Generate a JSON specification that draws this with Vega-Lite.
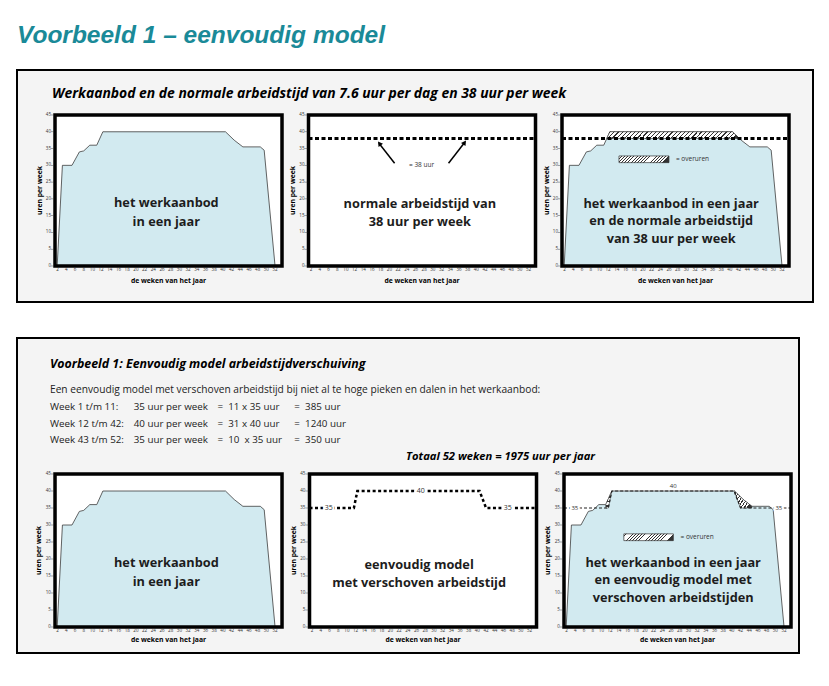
{
"$schema": "https://vega.github.io/schema/vega-lite/v6.json",
"background": "white",
"padding": {"left": 16, "top": 22, "right": 5, "bottom": 5},
"title": {"text": "Voorbeeld 1 – eenvoudig model", "anchor": "start", "frame": "group", "font": "Liberation Sans", "fontSize": 24.5, "fontWeight": "bold", "fontStyle": "italic", "color": "#1a8a98", "baseline": "alphabetic", "offset": 2},
"datasets": {
 "panels": [{"panel":"p1"},{"panel":"p2"},{"panel":"p3"}],
 "kader": [{"week":1.4,"p1":1,"p2":1,"p3":1},{"week":53.6,"p1":1,"p2":1,"p3":1}],
 "werk": [{"week":1.9,"uren":0},{"week":3.1,"uren":30},{"week":5.3,"uren":30},{"week":7,"uren":34},{"week":8,"uren":34.3},{"week":9.4,"uren":36},{"week":11,"uren":36},{"week":12.4,"uren":40},{"week":40.6,"uren":40},{"week":42.6,"uren":37.5},{"week":44.6,"uren":35.5},{"week":48.6,"uren":35.5},{"week":49.5,"uren":34.5},{"week":52,"uren":0}],
 "model": [{"week":1.4,"uren":35},{"week":11.6,"uren":35},{"week":12.4,"uren":40},{"week":40.5,"uren":40},{"week":42,"uren":35},{"week":53.6,"uren":35}],
 "lijn38": [{"week":1.4,"uren":38},{"week":53.6,"uren":38}],
 "pijlen": [{"pijl":"a","week":21.2,"uren":30.6},{"pijl":"a","week":17.6,"uren":36.6},{"pijl":"b","week":33.6,"uren":30.6},{"pijl":"b","week":37.3,"uren":36.8}],
 "overuren": [{"week":11.7,"hoog":38,"laag":38},{"week":12.4,"hoog":40,"laag":38},{"week":40.6,"hoog":40,"laag":38},{"week":42.2,"hoog":38,"laag":38}],
 "hatch1": [{"week":11,"hoog":36,"laag":35},{"week":11.6,"hoog":37.7,"laag":35},{"week":12.4,"hoog":40,"laag":40}],
 "hatch2": [{"week":40.5,"hoog":40,"laag":40},{"week":40.6,"hoog":40,"laag":39.67},{"week":42,"hoog":38.25,"laag":35},{"week":42.6,"hoog":37.5,"laag":35},{"week":44.6,"hoog":35.5,"laag":35}],
 "xas": [{"week":2,"p1":1,"p2":1,"p3":1},{"week":4,"p1":1,"p2":1,"p3":1},{"week":6,"p1":1,"p2":1,"p3":1},{"week":8,"p1":1,"p2":1,"p3":1},{"week":10,"p1":1,"p2":1,"p3":1},{"week":12,"p1":1,"p2":1,"p3":1},{"week":14,"p1":1,"p2":1,"p3":1},{"week":16,"p1":1,"p2":1,"p3":1},{"week":18,"p1":1,"p2":1,"p3":1},{"week":20,"p1":1,"p2":1,"p3":1},{"week":22,"p1":1,"p2":1,"p3":1},{"week":24,"p1":1,"p2":1,"p3":1},{"week":26,"p1":1,"p2":1,"p3":1},{"week":28,"p1":1,"p2":1,"p3":1},{"week":30,"p1":1,"p2":1,"p3":1},{"week":32,"p1":1,"p2":1,"p3":1},{"week":34,"p1":1,"p2":1,"p3":1},{"week":36,"p1":1,"p2":1,"p3":1},{"week":38,"p1":1,"p2":1,"p3":1},{"week":40,"p1":1,"p2":1,"p3":1},{"week":42,"p1":1,"p2":1,"p3":1},{"week":44,"p1":1,"p2":1,"p3":1},{"week":46,"p1":1,"p2":1,"p3":1},{"week":48,"p1":1,"p2":1,"p3":1},{"week":50,"p1":1,"p2":1,"p3":1},{"week":52,"p1":1,"p2":1,"p3":1}],
 "yas": [{"uren":0,"p1":1,"p2":1,"p3":1},{"uren":5,"p1":1,"p2":1,"p3":1},{"uren":10,"p1":1,"p2":1,"p3":1},{"uren":15,"p1":1,"p2":1,"p3":1},{"uren":20,"p1":1,"p2":1,"p3":1},{"uren":25,"p1":1,"p2":1,"p3":1},{"uren":30,"p1":1,"p2":1,"p3":1},{"uren":35,"p1":1,"p2":1,"p3":1},{"uren":40,"p1":1,"p2":1,"p3":1},{"uren":45,"p1":1,"p2":1,"p3":1}],
 "tekst": [
  {"regel":0,"kol":4,"tekst":"Een eenvoudig model met verschoven arbeidstijd bij niet al te hoge pieken en dalen in het werkaanbod:"},
  {"regel":1,"kol":4,"tekst":"Week 1 t/m 11:"},{"regel":1,"kol":16,"tekst":"35 uur per week"},{"regel":1,"kol":28,"tekst":"=\u00a0\u00a011 x 35 uur"},{"regel":1,"kol":39,"tekst":"=\u00a0\u00a0385 uur"},
  {"regel":2,"kol":4,"tekst":"Week 12 t/m 42:"},{"regel":2,"kol":16,"tekst":"40 uur per week"},{"regel":2,"kol":28,"tekst":"=\u00a0\u00a031 x 40 uur"},{"regel":2,"kol":39,"tekst":"=\u00a0\u00a01240 uur"},
  {"regel":3,"kol":4,"tekst":"Week 43 t/m 52:"},{"regel":3,"kol":16,"tekst":"35 uur per week"},{"regel":3,"kol":28,"tekst":"=\u00a0\u00a010\u00a0 x 35 uur"},{"regel":3,"kol":39,"tekst":"=\u00a0\u00a0350 uur"},
  {"regel":4,"kol":55,"tekst":"Totaal 52 weken = 1975 uur per jaar"}
 ]
},
"spacing": 34,
"vconcat": [
 {"width": 796, "height": 232, "view": {"fill": "#f4f4f4", "stroke": "black", "strokeWidth": 2},
  "layer": [
   {"data": {"name": "kader"}, "transform": [{"fold": ["p1","p2","p3"], "as": ["panel","v"]}], "mark": {"type": "area", "fill": "white", "stroke": null},
    "encoding": {"x": {"field": "panel", "type": "nominal", "bandPosition": 0, "scale": {"domain": ["p1","p2","p3"], "paddingInner": 0.1045, "paddingOuter": 0.1223, "align": 0.613}, "axis": null},
                 "xOffset": {"field": "week", "type": "quantitative", "scale": {"domain": [1.4, 53.6], "nice": false, "zero": false}},
                 "y": {"datum": 45, "type": "quantitative", "scale": {"domain": [-10.73, 58.41], "nice": false, "zero": false}, "axis": null},
                 "y2": {"datum": 0}, "detail": {"field": "panel"}}},
   {"data": {"name": "werk"}, "mark": {"type": "area", "color": "#bfe1ea", "line": {"color": "#3c3c3c", "strokeWidth": 0.8}},
    "encoding": {"x": {"datum": "p1", "bandPosition": 0}, "xOffset": {"field": "week", "type": "quantitative"},
                 "y": {"field": "uren", "type": "quantitative", "stack": null}}},
   {"data": {"name": "werk"}, "mark": {"type": "area", "color": "#bfe1ea", "line": {"color": "#3c3c3c", "strokeWidth": 0.8}},
    "encoding": {"x": {"datum": "p3", "bandPosition": 0}, "xOffset": {"field": "week", "type": "quantitative"},
                 "y": {"field": "uren", "type": "quantitative", "stack": null}}},
   {"data": {"name": "overuren"}, "mark": {"type": "area", "stroke": "#333", "strokeWidth": 0.6, "fill": {"gradient":"linear","x1":0,"y1":0,"x2":1,"y2":0.05,"stops":[
{"offset":0,"color":"#fff"},{"offset":0.0225,"color":"#fff"},{"offset":0.0225,"color":"#333"},{"offset":0.03125,"color":"#333"},
{"offset":0.03125,"color":"#fff"},{"offset":0.05375,"color":"#fff"},{"offset":0.05375,"color":"#333"},{"offset":0.0625,"color":"#333"},
{"offset":0.0625,"color":"#fff"},{"offset":0.085,"color":"#fff"},{"offset":0.085,"color":"#333"},{"offset":0.09375,"color":"#333"},
{"offset":0.09375,"color":"#fff"},{"offset":0.11625,"color":"#fff"},{"offset":0.11625,"color":"#333"},{"offset":0.125,"color":"#333"},
{"offset":0.125,"color":"#fff"},{"offset":0.1475,"color":"#fff"},{"offset":0.1475,"color":"#333"},{"offset":0.15625,"color":"#333"},
{"offset":0.15625,"color":"#fff"},{"offset":0.17875,"color":"#fff"},{"offset":0.17875,"color":"#333"},{"offset":0.1875,"color":"#333"},
{"offset":0.1875,"color":"#fff"},{"offset":0.21,"color":"#fff"},{"offset":0.21,"color":"#333"},{"offset":0.21875,"color":"#333"},
{"offset":0.21875,"color":"#fff"},{"offset":0.24125,"color":"#fff"},{"offset":0.24125,"color":"#333"},{"offset":0.25,"color":"#333"},
{"offset":0.25,"color":"#fff"},{"offset":0.2725,"color":"#fff"},{"offset":0.2725,"color":"#333"},{"offset":0.28125,"color":"#333"},
{"offset":0.28125,"color":"#fff"},{"offset":0.30375,"color":"#fff"},{"offset":0.30375,"color":"#333"},{"offset":0.3125,"color":"#333"},
{"offset":0.3125,"color":"#fff"},{"offset":0.335,"color":"#fff"},{"offset":0.335,"color":"#333"},{"offset":0.34375,"color":"#333"},
{"offset":0.34375,"color":"#fff"},{"offset":0.36625,"color":"#fff"},{"offset":0.36625,"color":"#333"},{"offset":0.375,"color":"#333"},
{"offset":0.375,"color":"#fff"},{"offset":0.3975,"color":"#fff"},{"offset":0.3975,"color":"#333"},{"offset":0.40625,"color":"#333"},
{"offset":0.40625,"color":"#fff"},{"offset":0.42875,"color":"#fff"},{"offset":0.42875,"color":"#333"},{"offset":0.4375,"color":"#333"},
{"offset":0.4375,"color":"#fff"},{"offset":0.46,"color":"#fff"},{"offset":0.46,"color":"#333"},{"offset":0.46875,"color":"#333"},
{"offset":0.46875,"color":"#fff"},{"offset":0.49125,"color":"#fff"},{"offset":0.49125,"color":"#333"},{"offset":0.5,"color":"#333"},
{"offset":0.5,"color":"#fff"},{"offset":0.5225,"color":"#fff"},{"offset":0.5225,"color":"#333"},{"offset":0.53125,"color":"#333"},
{"offset":0.53125,"color":"#fff"},{"offset":0.55375,"color":"#fff"},{"offset":0.55375,"color":"#333"},{"offset":0.5625,"color":"#333"},
{"offset":0.5625,"color":"#fff"},{"offset":0.585,"color":"#fff"},{"offset":0.585,"color":"#333"},{"offset":0.59375,"color":"#333"},
{"offset":0.59375,"color":"#fff"},{"offset":0.61625,"color":"#fff"},{"offset":0.61625,"color":"#333"},{"offset":0.625,"color":"#333"},
{"offset":0.625,"color":"#fff"},{"offset":0.6475,"color":"#fff"},{"offset":0.6475,"color":"#333"},{"offset":0.65625,"color":"#333"},
{"offset":0.65625,"color":"#fff"},{"offset":0.67875,"color":"#fff"},{"offset":0.67875,"color":"#333"},{"offset":0.6875,"color":"#333"},
{"offset":0.6875,"color":"#fff"},{"offset":0.71,"color":"#fff"},{"offset":0.71,"color":"#333"},{"offset":0.71875,"color":"#333"},
{"offset":0.71875,"color":"#fff"},{"offset":0.74125,"color":"#fff"},{"offset":0.74125,"color":"#333"},{"offset":0.75,"color":"#333"},
{"offset":0.75,"color":"#fff"},{"offset":0.7725,"color":"#fff"},{"offset":0.7725,"color":"#333"},{"offset":0.78125,"color":"#333"},
{"offset":0.78125,"color":"#fff"},{"offset":0.80375,"color":"#fff"},{"offset":0.80375,"color":"#333"},{"offset":0.8125,"color":"#333"},
{"offset":0.8125,"color":"#fff"},{"offset":0.835,"color":"#fff"},{"offset":0.835,"color":"#333"},{"offset":0.84375,"color":"#333"},
{"offset":0.84375,"color":"#fff"},{"offset":0.86625,"color":"#fff"},{"offset":0.86625,"color":"#333"},{"offset":0.875,"color":"#333"},
{"offset":0.875,"color":"#fff"},{"offset":0.8975,"color":"#fff"},{"offset":0.8975,"color":"#333"},{"offset":0.90625,"color":"#333"},
{"offset":0.90625,"color":"#fff"},{"offset":0.92875,"color":"#fff"},{"offset":0.92875,"color":"#333"},{"offset":0.9375,"color":"#333"},
{"offset":0.9375,"color":"#fff"},{"offset":0.96,"color":"#fff"},{"offset":0.96,"color":"#333"},{"offset":0.96875,"color":"#333"},
{"offset":0.96875,"color":"#fff"},{"offset":0.99125,"color":"#fff"},{"offset":0.99125,"color":"#333"},{"offset":1,"color":"#333"}]}},
    "encoding": {"x": {"datum": "p3", "bandPosition": 0}, "xOffset": {"field": "week", "type": "quantitative"},
                 "y": {"field": "hoog", "type": "quantitative", "stack": null}, "y2": {"field": "laag"}}},
   {"data": {"name": "lijn38"}, "mark": {"type": "line", "color": "black", "strokeWidth": 3, "strokeDash": [4, 2.5]},
    "encoding": {"x": {"datum": "p2", "bandPosition": 0}, "xOffset": {"field": "week", "type": "quantitative"}, "y": {"field": "uren", "type": "quantitative"}}},
   {"data": {"name": "lijn38"}, "mark": {"type": "line", "color": "black", "strokeWidth": 3, "strokeDash": [4, 2.5]},
    "encoding": {"x": {"datum": "p3", "bandPosition": 0}, "xOffset": {"field": "week", "type": "quantitative"}, "y": {"field": "uren", "type": "quantitative"}}},
   {"data": {"name": "pijlen"}, "mark": {"type": "line", "color": "black", "strokeWidth": 1.5},
    "encoding": {"x": {"datum": "p2", "bandPosition": 0}, "xOffset": {"field": "week", "type": "quantitative"}, "y": {"field": "uren", "type": "quantitative"}, "detail": {"field": "pijl"}}},
   {"data": {"values": [{}]}, "mark": {"type": "point", "shape": "triangle-up", "filled": true, "color": "black", "size": 30, "opacity": 1, "angle": 324},
    "encoding": {"x": {"datum": "p2", "bandPosition": 0}, "xOffset": {"datum": 17.7}, "y": {"datum": 36.5}}},
   {"data": {"values": [{}]}, "mark": {"type": "point", "shape": "triangle-up", "filled": true, "color": "black", "size": 30, "opacity": 1, "angle": 35},
    "encoding": {"x": {"datum": "p2", "bandPosition": 0}, "xOffset": {"datum": 37.3}, "y": {"datum": 36.8}}},
   {"data": {"values": [{}]}, "mark": {"type": "text", "text": "= 38 uur", "font": "Open Sans", "fontSize": 6.5, "color": "#333", "align": "center", "baseline": "middle"},
    "encoding": {"x": {"datum": "p2", "bandPosition": 0}, "xOffset": {"datum": 27.4}, "y": {"datum": 30.2}}},
   {"data": {"values": [{}]}, "mark": {"type": "point", "shape": "M-1,-0.134L1,-0.134L1,0.134L-1,0.134Z", "size": 2500, "filled": true, "opacity": 1, "stroke": "#333", "strokeWidth": 0.7, "fill": {"gradient":"linear","x1":0,"y1":0,"x2":1,"y2":0.134,"stops":[
{"offset":0,"color":"#fff"},{"offset":0.045,"color":"#fff"},{"offset":0.045,"color":"#333"},{"offset":0.0625,"color":"#333"},
{"offset":0.0625,"color":"#fff"},{"offset":0.1075,"color":"#fff"},{"offset":0.1075,"color":"#333"},{"offset":0.125,"color":"#333"},
{"offset":0.125,"color":"#fff"},{"offset":0.17,"color":"#fff"},{"offset":0.17,"color":"#333"},{"offset":0.1875,"color":"#333"},
{"offset":0.1875,"color":"#fff"},{"offset":0.2325,"color":"#fff"},{"offset":0.2325,"color":"#333"},{"offset":0.25,"color":"#333"},
{"offset":0.25,"color":"#fff"},{"offset":0.295,"color":"#fff"},{"offset":0.295,"color":"#333"},{"offset":0.3125,"color":"#333"},
{"offset":0.3125,"color":"#fff"},{"offset":0.3575,"color":"#fff"},{"offset":0.3575,"color":"#333"},{"offset":0.375,"color":"#333"},
{"offset":0.375,"color":"#fff"},{"offset":0.42,"color":"#fff"},{"offset":0.42,"color":"#333"},{"offset":0.4375,"color":"#333"},
{"offset":0.4375,"color":"#fff"},{"offset":0.4825,"color":"#fff"},{"offset":0.4825,"color":"#333"},{"offset":0.5,"color":"#333"},
{"offset":0.5,"color":"#fff"},{"offset":0.545,"color":"#fff"},{"offset":0.545,"color":"#333"},{"offset":0.5625,"color":"#333"},
{"offset":0.5625,"color":"#fff"},{"offset":0.6075,"color":"#fff"},{"offset":0.6075,"color":"#333"},{"offset":0.625,"color":"#333"},
{"offset":0.625,"color":"#fff"},{"offset":0.67,"color":"#fff"},{"offset":0.67,"color":"#333"},{"offset":0.6875,"color":"#333"},
{"offset":0.6875,"color":"#fff"},{"offset":0.7325,"color":"#fff"},{"offset":0.7325,"color":"#333"},{"offset":0.75,"color":"#333"},
{"offset":0.75,"color":"#fff"},{"offset":0.795,"color":"#fff"},{"offset":0.795,"color":"#333"},{"offset":0.8125,"color":"#333"},
{"offset":0.8125,"color":"#fff"},{"offset":0.8575,"color":"#fff"},{"offset":0.8575,"color":"#333"},{"offset":0.875,"color":"#333"},
{"offset":0.875,"color":"#fff"},{"offset":0.92,"color":"#fff"},{"offset":0.92,"color":"#333"},{"offset":0.9375,"color":"#333"},
{"offset":0.9375,"color":"#fff"},{"offset":0.9825,"color":"#fff"},{"offset":0.9825,"color":"#333"},{"offset":1,"color":"#333"}]}},
    "encoding": {"x": {"datum": "p3", "bandPosition": 0}, "xOffset": {"datum": 20.25}, "y": {"datum": 31.8}}},
   {"data": {"values": [{}]}, "mark": {"type": "text", "text": "= overuren", "font": "Open Sans", "fontSize": 6.5, "color": "#333", "align": "left", "baseline": "middle"},
    "encoding": {"x": {"datum": "p3", "bandPosition": 0}, "xOffset": {"datum": 27.6}, "y": {"datum": 31.8}}},
   {"data": {"values": [{}]}, "mark": {"type": "text", "text": ["het werkaanbod", "in een jaar"], "lineHeight": 19, "font": "Open Sans", "fontSize": 12.75, "fontWeight": "bold", "color": "#1d1d1d", "align": "center", "baseline": "middle"},
    "encoding": {"x": {"datum": "p1", "bandPosition": 0}, "xOffset": {"datum": 27}, "y": {"datum": 18.78}}},
   {"data": {"values": [{}]}, "mark": {"type": "text", "text": ["normale arbeidstijd van", "38 uur per week"], "lineHeight": 17.5, "font": "Open Sans", "fontSize": 12.75, "fontWeight": "bold", "color": "#1d1d1d", "align": "center", "baseline": "middle"},
    "encoding": {"x": {"datum": "p2", "bandPosition": 0}, "xOffset": {"datum": 27}, "y": {"datum": 18.41}}},
   {"data": {"values": [{}]}, "mark": {"type": "text", "text": ["het werkaanbod in een jaar", "en de normale arbeidstijd", "van 38 uur per week"], "lineHeight": 17.5, "font": "Open Sans", "fontSize": 12.75, "fontWeight": "bold", "color": "#1d1d1d", "align": "center", "baseline": "middle"},
    "encoding": {"x": {"datum": "p3", "bandPosition": 0}, "xOffset": {"datum": 26.5}, "y": {"datum": 18.62}}},
   {"data": {"name": "kader"}, "transform": [{"fold": ["p1","p2","p3"], "as": ["panel","v"]}], "mark": {"type": "area", "filled": false, "fill": null, "stroke": "black", "strokeWidth": 3.5},
    "encoding": {"x": {"field": "panel", "type": "nominal", "bandPosition": 0}, "xOffset": {"field": "week", "type": "quantitative"}, "y": {"datum": 45}, "y2": {"datum": 0}, "detail": {"field": "panel"}}},
   {"data": {"name": "yas"}, "transform": [{"fold": ["p1","p2","p3"], "as": ["panel","v"]}],
    "mark": {"type": "tick", "orient": "horizontal", "size": 3, "thickness": 0.6, "color": "#333"},
    "encoding": {"x": {"field": "panel", "type": "nominal", "bandPosition": 0}, "xOffset": {"datum": 0.825}, "y": {"field": "uren", "type": "quantitative"}}},
   {"data": {"name": "yas"}, "transform": [{"fold": ["p1","p2","p3"], "as": ["panel","v"]}],
    "mark": {"type": "text", "font": "Open Sans", "fontSize": 4.5, "color": "#333", "align": "right", "baseline": "middle"},
    "encoding": {"x": {"field": "panel", "type": "nominal", "bandPosition": 0}, "xOffset": {"datum": 0.48}, "y": {"field": "uren", "type": "quantitative"}, "text": {"field": "uren", "type": "quantitative"}}},
   {"data": {"name": "xas"}, "transform": [{"fold": ["p1","p2","p3"], "as": ["panel","v"]}],
    "mark": {"type": "text", "font": "Open Sans", "fontSize": 4.5, "color": "#333", "align": "center", "baseline": "middle"},
    "encoding": {"x": {"field": "panel", "type": "nominal", "bandPosition": 0}, "xOffset": {"field": "week", "type": "quantitative"}, "y": {"datum": -1.31}, "text": {"field": "week", "type": "quantitative"}}},
   {"data": {"name": "panels"}, "mark": {"type": "text", "text": "de weken van het jaar", "font": "Open Sans", "fontSize": 6.8, "fontWeight": "bold", "color": "black", "align": "center", "baseline": "middle"},
    "encoding": {"x": {"field": "panel", "type": "nominal", "bandPosition": 0}, "xOffset": {"datum": 27.5}, "y": {"datum": -4.47}}},
   {"data": {"name": "panels"}, "mark": {"type": "text", "text": "uren per week", "angle": 270, "font": "Open Sans", "fontSize": 6.8, "fontWeight": "bold", "color": "black", "align": "center", "baseline": "middle"},
    "encoding": {"x": {"field": "panel", "type": "nominal", "bandPosition": 0}, "xOffset": {"datum": -2.16}, "y": {"datum": 22.5}}},
   {"data": {"values": [{}]}, "mark": {"type": "text", "text": "Werkaanbod en de normale arbeidstijd van 7.6 uur per dag en 38 uur per week", "font": "Open Sans", "fontSize": 13.9, "fontWeight": "bold", "fontStyle": "italic", "color": "black", "align": "left", "baseline": "middle"},
    "encoding": {"x": {"datum": "p1", "bandPosition": 0}, "xOffset": {"datum": 0.71}, "y": {"datum": 51.26}}}
  ]},
 {"width": 782, "height": 315, "view": {"fill": "#f4f4f4", "stroke": "black", "strokeWidth": 2},
  "resolve": {"scale": {"x": "independent", "y": "independent"}},
  "layer": [
   {"layer": [
    {"data": {"name": "kader"}, "transform": [{"fold": ["p1","p2","p3"], "as": ["panel","v"]}], "mark": {"type": "area", "fill": "white", "stroke": null},
     "encoding": {"x": {"field": "panel", "type": "nominal", "bandPosition": 0, "scale": {"domain": ["p1","p2","p3"], "paddingInner": 0.1316, "paddingOuter": 0.1022, "align": 0.731}, "axis": null},
                  "xOffset": {"field": "week", "type": "quantitative", "scale": {"domain": [1.4, 53.6], "nice": false, "zero": false}},
                  "y": {"datum": 45, "type": "quantitative", "scale": {"domain": [-7.647, 85], "nice": false, "zero": false}, "axis": null},
                  "y2": {"datum": 0}, "detail": {"field": "panel"}}},
    {"data": {"name": "werk"}, "mark": {"type": "area", "color": "#bfe1ea", "line": {"color": "#3c3c3c", "strokeWidth": 0.8}},
     "encoding": {"x": {"datum": "p1", "bandPosition": 0}, "xOffset": {"field": "week", "type": "quantitative"},
                  "y": {"field": "uren", "type": "quantitative", "stack": null}}},
    {"data": {"name": "werk"}, "mark": {"type": "area", "color": "#bfe1ea", "line": {"color": "#3c3c3c", "strokeWidth": 0.8}},
     "encoding": {"x": {"datum": "p3", "bandPosition": 0}, "xOffset": {"field": "week", "type": "quantitative"},
                  "y": {"field": "uren", "type": "quantitative", "stack": null}}},
    {"data": {"name": "hatch1"}, "mark": {"type": "area", "stroke": "#333", "strokeWidth": 0.5, "fill": {"gradient":"linear","x1":0,"y1":0,"x2":1,"y2":0.6,"stops":[
{"offset":0,"color":"#fff"},{"offset":0.08,"color":"#fff"},{"offset":0.08,"color":"#333"},{"offset":0.125,"color":"#333"},
{"offset":0.125,"color":"#fff"},{"offset":0.205,"color":"#fff"},{"offset":0.205,"color":"#333"},{"offset":0.25,"color":"#333"},
{"offset":0.25,"color":"#fff"},{"offset":0.33,"color":"#fff"},{"offset":0.33,"color":"#333"},{"offset":0.375,"color":"#333"},
{"offset":0.375,"color":"#fff"},{"offset":0.455,"color":"#fff"},{"offset":0.455,"color":"#333"},{"offset":0.5,"color":"#333"},
{"offset":0.5,"color":"#fff"},{"offset":0.58,"color":"#fff"},{"offset":0.58,"color":"#333"},{"offset":0.625,"color":"#333"},
{"offset":0.625,"color":"#fff"},{"offset":0.705,"color":"#fff"},{"offset":0.705,"color":"#333"},{"offset":0.75,"color":"#333"},
{"offset":0.75,"color":"#fff"},{"offset":0.83,"color":"#fff"},{"offset":0.83,"color":"#333"},{"offset":0.875,"color":"#333"},
{"offset":0.875,"color":"#fff"},{"offset":0.955,"color":"#fff"},{"offset":0.955,"color":"#333"},{"offset":1,"color":"#333"}]}},
     "encoding": {"x": {"datum": "p3", "bandPosition": 0}, "xOffset": {"field": "week", "type": "quantitative"},
                  "y": {"field": "hoog", "type": "quantitative", "stack": null}, "y2": {"field": "laag"}}},
    {"data": {"name": "hatch2"}, "mark": {"type": "area", "stroke": "#333", "strokeWidth": 0.5, "fill": {"gradient":"linear","x1":0,"y1":0,"x2":1,"y2":0.6,"stops":[
{"offset":0,"color":"#fff"},{"offset":0.08,"color":"#fff"},{"offset":0.08,"color":"#333"},{"offset":0.125,"color":"#333"},
{"offset":0.125,"color":"#fff"},{"offset":0.205,"color":"#fff"},{"offset":0.205,"color":"#333"},{"offset":0.25,"color":"#333"},
{"offset":0.25,"color":"#fff"},{"offset":0.33,"color":"#fff"},{"offset":0.33,"color":"#333"},{"offset":0.375,"color":"#333"},
{"offset":0.375,"color":"#fff"},{"offset":0.455,"color":"#fff"},{"offset":0.455,"color":"#333"},{"offset":0.5,"color":"#333"},
{"offset":0.5,"color":"#fff"},{"offset":0.58,"color":"#fff"},{"offset":0.58,"color":"#333"},{"offset":0.625,"color":"#333"},
{"offset":0.625,"color":"#fff"},{"offset":0.705,"color":"#fff"},{"offset":0.705,"color":"#333"},{"offset":0.75,"color":"#333"},
{"offset":0.75,"color":"#fff"},{"offset":0.83,"color":"#fff"},{"offset":0.83,"color":"#333"},{"offset":0.875,"color":"#333"},
{"offset":0.875,"color":"#fff"},{"offset":0.955,"color":"#fff"},{"offset":0.955,"color":"#333"},{"offset":1,"color":"#333"}]}},
     "encoding": {"x": {"datum": "p3", "bandPosition": 0}, "xOffset": {"field": "week", "type": "quantitative"},
                  "y": {"field": "hoog", "type": "quantitative", "stack": null}, "y2": {"field": "laag"}}},
    {"data": {"name": "model"}, "mark": {"type": "line", "color": "black", "strokeWidth": 2.5, "strokeDash": [3, 2.5]},
     "encoding": {"x": {"datum": "p2", "bandPosition": 0}, "xOffset": {"field": "week", "type": "quantitative"}, "y": {"field": "uren", "type": "quantitative"}}},
    {"data": {"name": "model"}, "mark": {"type": "line", "color": "#222", "strokeWidth": 1.2, "strokeDash": [3, 2]},
     "encoding": {"x": {"datum": "p3", "bandPosition": 0}, "xOffset": {"field": "week", "type": "quantitative"}, "y": {"field": "uren", "type": "quantitative"}}},
    {"data": {"values": [{}]}, "mark": {"type": "text", "text": "35", "font": "Open Sans", "fontSize": 7, "color": "white", "stroke": "white", "strokeWidth": 4, "align": "center", "baseline": "middle"},
     "encoding": {"x": {"datum": "p2", "bandPosition": 0}, "xOffset": {"datum": 5.8}, "y": {"datum": 35}}},
    {"data": {"values": [{}]}, "mark": {"type": "text", "text": "35", "font": "Open Sans", "fontSize": 7, "color": "#333", "align": "center", "baseline": "middle"},
     "encoding": {"x": {"datum": "p2", "bandPosition": 0}, "xOffset": {"datum": 5.8}, "y": {"datum": 35}}},
    {"data": {"values": [{}]}, "mark": {"type": "text", "text": "40", "font": "Open Sans", "fontSize": 7, "color": "white", "stroke": "white", "strokeWidth": 4, "align": "center", "baseline": "middle"},
     "encoding": {"x": {"datum": "p2", "bandPosition": 0}, "xOffset": {"datum": 27}, "y": {"datum": 40}}},
    {"data": {"values": [{}]}, "mark": {"type": "text", "text": "40", "font": "Open Sans", "fontSize": 7, "color": "#333", "align": "center", "baseline": "middle"},
     "encoding": {"x": {"datum": "p2", "bandPosition": 0}, "xOffset": {"datum": 27}, "y": {"datum": 40}}},
    {"data": {"values": [{}]}, "mark": {"type": "text", "text": "35", "font": "Open Sans", "fontSize": 7, "color": "white", "stroke": "white", "strokeWidth": 4, "align": "center", "baseline": "middle"},
     "encoding": {"x": {"datum": "p2", "bandPosition": 0}, "xOffset": {"datum": 47}, "y": {"datum": 35}}},
    {"data": {"values": [{}]}, "mark": {"type": "text", "text": "35", "font": "Open Sans", "fontSize": 7, "color": "#333", "align": "center", "baseline": "middle"},
     "encoding": {"x": {"datum": "p2", "bandPosition": 0}, "xOffset": {"datum": 47}, "y": {"datum": 35}}},
    {"data": {"values": [{}]}, "mark": {"type": "text", "text": "35", "font": "Open Sans", "fontSize": 6, "color": "white", "stroke": "white", "strokeWidth": 4, "align": "center", "baseline": "middle"},
     "encoding": {"x": {"datum": "p3", "bandPosition": 0}, "xOffset": {"datum": 3.9}, "y": {"datum": 35}}},
    {"data": {"values": [{}]}, "mark": {"type": "text", "text": "35", "font": "Open Sans", "fontSize": 6, "color": "#333", "align": "center", "baseline": "middle"},
     "encoding": {"x": {"datum": "p3", "bandPosition": 0}, "xOffset": {"datum": 3.9}, "y": {"datum": 35}}},
    {"data": {"values": [{}]}, "mark": {"type": "text", "text": "40", "font": "Open Sans", "fontSize": 6, "color": "#333", "align": "center", "baseline": "middle"},
     "encoding": {"x": {"datum": "p3", "bandPosition": 0}, "xOffset": {"datum": 26.5}, "y": {"datum": 41.5}}},
    {"data": {"values": [{}]}, "mark": {"type": "text", "text": "35", "font": "Open Sans", "fontSize": 6, "color": "white", "stroke": "white", "strokeWidth": 4, "align": "center", "baseline": "middle"},
     "encoding": {"x": {"datum": "p3", "bandPosition": 0}, "xOffset": {"datum": 50.8}, "y": {"datum": 35}}},
    {"data": {"values": [{}]}, "mark": {"type": "text", "text": "35", "font": "Open Sans", "fontSize": 6, "color": "#333", "align": "center", "baseline": "middle"},
     "encoding": {"x": {"datum": "p3", "bandPosition": 0}, "xOffset": {"datum": 50.8}, "y": {"datum": 35}}},
    {"data": {"values": [{}]}, "mark": {"type": "point", "shape": "M-1,-0.137L1,-0.137L1,0.137L-1,0.137Z", "size": 2450, "filled": true, "opacity": 1, "stroke": "#333", "strokeWidth": 0.7, "fill": {"gradient":"linear","x1":0,"y1":0,"x2":1,"y2":0.137,"stops":[
{"offset":0,"color":"#fff"},{"offset":0.045,"color":"#fff"},{"offset":0.045,"color":"#333"},{"offset":0.0625,"color":"#333"},
{"offset":0.0625,"color":"#fff"},{"offset":0.1075,"color":"#fff"},{"offset":0.1075,"color":"#333"},{"offset":0.125,"color":"#333"},
{"offset":0.125,"color":"#fff"},{"offset":0.17,"color":"#fff"},{"offset":0.17,"color":"#333"},{"offset":0.1875,"color":"#333"},
{"offset":0.1875,"color":"#fff"},{"offset":0.2325,"color":"#fff"},{"offset":0.2325,"color":"#333"},{"offset":0.25,"color":"#333"},
{"offset":0.25,"color":"#fff"},{"offset":0.295,"color":"#fff"},{"offset":0.295,"color":"#333"},{"offset":0.3125,"color":"#333"},
{"offset":0.3125,"color":"#fff"},{"offset":0.3575,"color":"#fff"},{"offset":0.3575,"color":"#333"},{"offset":0.375,"color":"#333"},
{"offset":0.375,"color":"#fff"},{"offset":0.42,"color":"#fff"},{"offset":0.42,"color":"#333"},{"offset":0.4375,"color":"#333"},
{"offset":0.4375,"color":"#fff"},{"offset":0.4825,"color":"#fff"},{"offset":0.4825,"color":"#333"},{"offset":0.5,"color":"#333"},
{"offset":0.5,"color":"#fff"},{"offset":0.545,"color":"#fff"},{"offset":0.545,"color":"#333"},{"offset":0.5625,"color":"#333"},
{"offset":0.5625,"color":"#fff"},{"offset":0.6075,"color":"#fff"},{"offset":0.6075,"color":"#333"},{"offset":0.625,"color":"#333"},
{"offset":0.625,"color":"#fff"},{"offset":0.67,"color":"#fff"},{"offset":0.67,"color":"#333"},{"offset":0.6875,"color":"#333"},
{"offset":0.6875,"color":"#fff"},{"offset":0.7325,"color":"#fff"},{"offset":0.7325,"color":"#333"},{"offset":0.75,"color":"#333"},
{"offset":0.75,"color":"#fff"},{"offset":0.795,"color":"#fff"},{"offset":0.795,"color":"#333"},{"offset":0.8125,"color":"#333"},
{"offset":0.8125,"color":"#fff"},{"offset":0.8575,"color":"#fff"},{"offset":0.8575,"color":"#333"},{"offset":0.875,"color":"#333"},
{"offset":0.875,"color":"#fff"},{"offset":0.92,"color":"#fff"},{"offset":0.92,"color":"#333"},{"offset":0.9375,"color":"#333"},
{"offset":0.9375,"color":"#fff"},{"offset":0.9825,"color":"#fff"},{"offset":0.9825,"color":"#333"},{"offset":1,"color":"#333"}]}},
     "encoding": {"x": {"datum": "p3", "bandPosition": 0}, "xOffset": {"datum": 20.85}, "y": {"datum": 26.4}}},
    {"data": {"values": [{}]}, "mark": {"type": "text", "text": "= overuren", "font": "Open Sans", "fontSize": 6.5, "color": "#333", "align": "left", "baseline": "middle"},
     "encoding": {"x": {"datum": "p3", "bandPosition": 0}, "xOffset": {"datum": 28.2}, "y": {"datum": 26.4}}},
    {"data": {"values": [{}]}, "mark": {"type": "text", "text": ["het werkaanbod", "in een jaar"], "lineHeight": 19, "font": "Open Sans", "fontSize": 12.75, "fontWeight": "bold", "color": "#1d1d1d", "align": "center", "baseline": "middle"},
     "encoding": {"x": {"datum": "p1", "bandPosition": 0}, "xOffset": {"datum": 27}, "y": {"datum": 18.69}}},
    {"data": {"values": [{}]}, "mark": {"type": "text", "text": ["eenvoudig model", "met verschoven arbeidstijd"], "lineHeight": 17.7, "font": "Open Sans", "fontSize": 12.75, "fontWeight": "bold", "color": "#1d1d1d", "align": "center", "baseline": "middle"},
     "encoding": {"x": {"datum": "p2", "bandPosition": 0}, "xOffset": {"datum": 26.6}, "y": {"datum": 18.2}}},
    {"data": {"values": [{}]}, "mark": {"type": "text", "text": ["het werkaanbod in een jaar", "en eenvoudig model met", "verschoven arbeidstijden"], "lineHeight": 17.5, "font": "Open Sans", "fontSize": 12.75, "fontWeight": "bold", "color": "#1d1d1d", "align": "center", "baseline": "middle"},
     "encoding": {"x": {"datum": "p3", "bandPosition": 0}, "xOffset": {"datum": 26.5}, "y": {"datum": 18.85}}},
    {"data": {"name": "kader"}, "transform": [{"fold": ["p1","p2","p3"], "as": ["panel","v"]}], "mark": {"type": "area", "filled": false, "fill": null, "stroke": "black", "strokeWidth": 3.5},
     "encoding": {"x": {"field": "panel", "type": "nominal", "bandPosition": 0}, "xOffset": {"field": "week", "type": "quantitative"}, "y": {"datum": 45}, "y2": {"datum": 0}, "detail": {"field": "panel"}}},
    {"data": {"name": "yas"}, "transform": [{"fold": ["p1","p2","p3"], "as": ["panel","v"]}],
     "mark": {"type": "tick", "orient": "horizontal", "size": 3, "thickness": 0.6, "color": "#333"},
     "encoding": {"x": {"field": "panel", "type": "nominal", "bandPosition": 0}, "xOffset": {"datum": 0.81}, "y": {"field": "uren", "type": "quantitative"}}},
    {"data": {"name": "yas"}, "transform": [{"fold": ["p1","p2","p3"], "as": ["panel","v"]}],
     "mark": {"type": "text", "font": "Open Sans", "fontSize": 4.5, "color": "#333", "align": "right", "baseline": "middle"},
     "encoding": {"x": {"field": "panel", "type": "nominal", "bandPosition": 0}, "xOffset": {"datum": 0.455}, "y": {"field": "uren", "type": "quantitative"}, "text": {"field": "uren", "type": "quantitative"}}},
    {"data": {"name": "xas"}, "transform": [{"fold": ["p1","p2","p3"], "as": ["panel","v"]}],
     "mark": {"type": "text", "font": "Open Sans", "fontSize": 4.5, "color": "#333", "align": "center", "baseline": "middle"},
     "encoding": {"x": {"field": "panel", "type": "nominal", "bandPosition": 0}, "xOffset": {"field": "week", "type": "quantitative"}, "y": {"datum": -1.3}, "text": {"field": "week", "type": "quantitative"}}},
    {"data": {"name": "panels"}, "mark": {"type": "text", "text": "de weken van het jaar", "font": "Open Sans", "fontSize": 6.8, "fontWeight": "bold", "color": "black", "align": "center", "baseline": "middle"},
     "encoding": {"x": {"field": "panel", "type": "nominal", "bandPosition": 0}, "xOffset": {"datum": 27.5}, "y": {"datum": -3.82}}},
    {"data": {"name": "panels"}, "mark": {"type": "text", "text": "uren per week", "angle": 270, "font": "Open Sans", "fontSize": 6.8, "fontWeight": "bold", "color": "black", "align": "center", "baseline": "middle"},
     "encoding": {"x": {"field": "panel", "type": "nominal", "bandPosition": 0}, "xOffset": {"datum": -2.26}, "y": {"datum": 22.5}}},
    {"data": {"values": [{}]}, "mark": {"type": "text", "text": "Voorbeeld 1: Eenvoudig model arbeidstijdverschuiving", "font": "Open Sans", "fontSize": 12.4, "fontWeight": "bold", "fontStyle": "italic", "color": "black", "align": "left", "baseline": "middle"},
     "encoding": {"x": {"datum": "p1", "bandPosition": 0}, "xOffset": {"datum": 0.22}, "y": {"datum": 77.35}}}
   ]},
   {"data": {"name": "tekst"},
    "encoding": {"x": {"field": "kol", "type": "ordinal", "scale": {"type": "point", "domain": [0,1,2,3,4,5,6,7,8,9,10,11,12,13,14,15,16,17,18,19,20,21,22,23,24,25,26,27,28,29,30,31,32,33,34,35,36,37,38,39,40,41,42,43,44,45,46,47,48,49,50,51,52,53,54,55,56,57,58,59,60,61,62,63,64,65,66,67,68,69,70,71,72,73,74,75,76,77,78,79,80,81,82,83,84,85,86,87,88,89,90,91,92,93,94,95,96,97,98,99,100,101,102,103,104,105,106,107,108,109,110,111], "padding": 0.5, "align": 0.724}, "axis": null},
                 "y": {"field": "regel", "type": "ordinal", "scale": {"type": "point", "domain": [-3,-2,-1,0,1,2,3,4,5,6,7,8,9,10,11,12,13,14,15], "padding": 0.4, "align": 0.129}, "axis": null},
                 "text": {"field": "tekst"}},
    "layer": [
     {"transform": [{"filter": "datum.regel == 0"}], "mark": {"type": "text", "align": "left", "baseline": "middle", "font": "Open Sans", "fontSize": 10.2, "color": "#222"}},
     {"transform": [{"filter": "datum.regel > 0 && datum.regel < 4"}], "mark": {"type": "text", "align": "left", "baseline": "middle", "font": "Open Sans", "fontSize": 9.8, "color": "#222"}},
     {"transform": [{"filter": "datum.regel == 4"}], "mark": {"type": "text", "align": "left", "baseline": "middle", "font": "Open Sans", "fontSize": 11.2, "fontWeight": "bold", "fontStyle": "italic", "color": "black"}}
    ]}
  ]}
],
"config": {
 "font": "Open Sans",
 "view": {"stroke": null}
}
}
